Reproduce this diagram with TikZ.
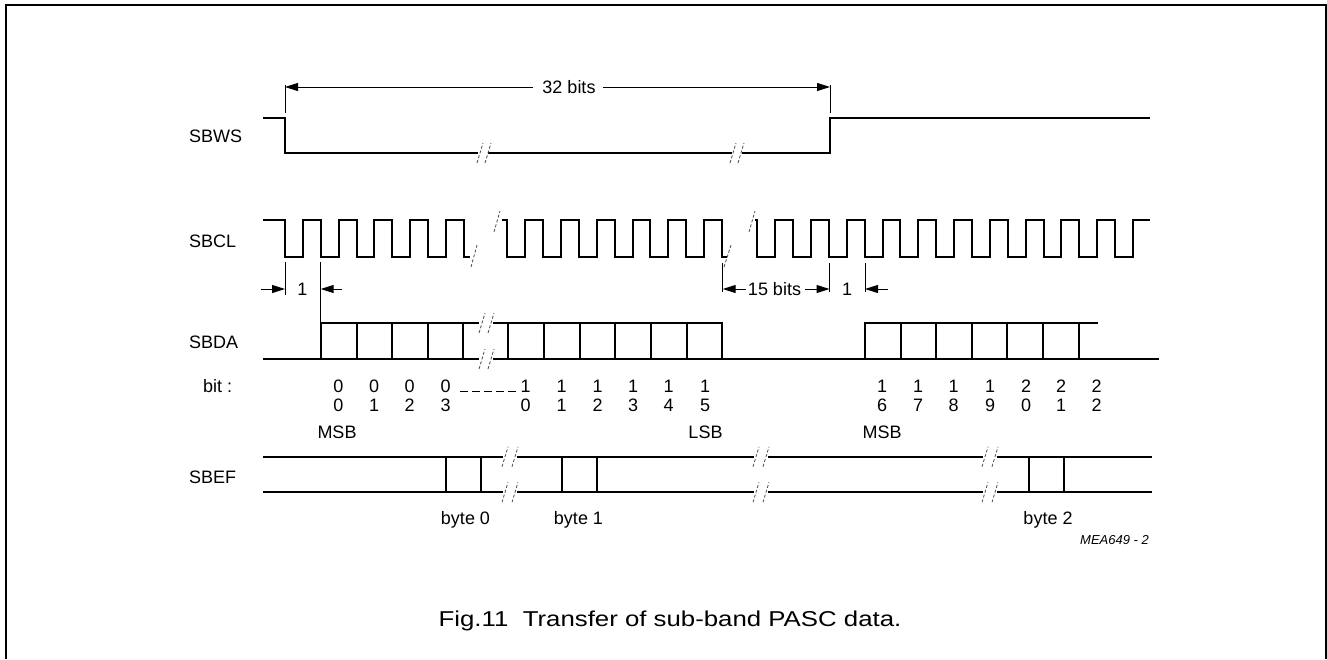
\documentclass[tikz,border=0pt]{standalone}
\usepackage{fontspec}
\setmainfont{Liberation Sans}
\usetikzlibrary{arrows.meta}
\newcommand\BrkMark[2]{\draw[brk] (#1,#2) ++(-3,10) -- ++(6,-20);}
\begin{document}
\begin{tikzpicture}[x=1pt,y=-1pt,
  wave/.style={line width=2pt},
  dimline/.style={line width=1pt},
  dimarrow/.style={line width=1pt,-{Triangle[length=13pt,width=8pt]}},
  brk/.style={line width=0.8pt,black!70,dash pattern=on 3pt off 2pt},
  lbl/.style={font=\fontsize{18}{19}\selectfont,inner sep=0pt},
  figcap/.style={font=\fontsize{21.5}{23}\selectfont,inner sep=0pt},
  tag/.style={font=\fontsize{13}{14}\selectfont\itshape,inner sep=0pt}]
\useasboundingbox (0,0) rectangle (1327,659);
% frame
\draw[line width=2pt] (6,659) -- (6,4.5) -- (1325.5,4.5) -- (1325.5,659);

% signal labels
\node[lbl,anchor=west] (lws) at (189,136) {SBWS};
\node[lbl,anchor=west] (lcl) at (189,241) {SBCL};
\node[lbl,anchor=west] (lda) at (189,342) {SBDA};
\node[lbl,anchor=west] (lbit) at (203,386) {bit :};
\node[lbl,anchor=west] (lef) at (189,477) {SBEF};

% ---------- SBWS ----------
\draw[wave] (263,118) -- (285,118) -- (285,153) -- (478,153);
\draw[wave] (488,153) -- (732,153);
\draw[wave] (742,153) -- (829.5,153) -- (829.5,118) -- (1150,118);
\BrkMark{480}{153}\BrkMark{488}{153}
\BrkMark{733}{153}\BrkMark{741}{153}
% 32 bits dimension
\coordinate (wsA) at (285,87);
\coordinate (wsB) at (830,87);
\draw[dimline] (285,85) -- (285,113);
\draw[dimline] (830,85) -- (830,113);
\node[lbl] (t32) at (569,87) {32 bits};
\draw[dimarrow] (t32.west) ++(-9,0) -- (wsA);
\draw[dimarrow] (t32.east) ++(7,0) -- (wsB);

% ---------- SBCL ----------
\draw[wave] (263,220) -- (285,220)
  \foreach \k in {1,...,5}{ -- ++(0,37) -- ++(17.89,0) -- ++(0,-37) -- ++(17.89,0) }
  -- ++(0,37) -- (470,257);
\draw[wave] (502,220) -- (507.3,220)
  \foreach \k in {1,...,6}{ -- ++(0,37) -- ++(17.89,0) -- ++(0,-37) -- ++(17.89,0) }
  -- ++(0,37) -- (727,257);
\draw[wave] (755,220) -- (757.3,220)
  \foreach \k in {1,...,10}{ -- ++(0,37) -- ++(17.89,0) -- ++(0,-37) -- ++(17.89,0) }
  -- ++(0,37) -- ++(17.89,0) -- ++(0,-37) -- (1150,220);
\draw[brk] (471,267) -- (477,245);
\draw[brk] (494,232) -- (500,211);
\draw[brk] (724,267) -- (731,245);
\draw[brk] (749,232) -- (755,211);
% "1" dimension
\draw[dimline] (285,262) -- (285,295);
\draw[dimline] (320.7,262) -- (320.7,323);
\coordinate (c1a) at (285,289);
\coordinate (c1b) at (320.7,289);
\coordinate (c1al) at (261,289);
\coordinate (c1br) at (342,289);
\node[lbl] (one1) at (302.5,289) {1};
\draw[dimarrow] (c1al) -- (c1a);
\draw[dimarrow] (c1br) -- (c1b);
% 15 bits / 1 dimension
\draw[dimline] (722.7,263) -- (722.7,292);
\draw[dimline] (829.5,263) -- (829.5,292);
\draw[dimline] (865,263) -- (865,292);
\node[lbl] (t15) at (774.5,289) {15 bits};
\node[lbl] (one2) at (847,289) {1};
\coordinate (d15a) at (722.7,289);
\coordinate (d15b) at (829.5,289);
\coordinate (d1b) at (865,289);
\coordinate (d1br) at (888,289);
\draw[dimarrow] (t15.west) ++(-2,0) -- (d15a);
\draw[dimarrow] (t15.east) ++(4,0) -- (d15b);
\draw[dimarrow] (d1br) -- (d1b);

% ---------- SBDA ----------
\draw[wave] (263,359) -- (320.7,359) -- (320.7,323) -- (479,323);
\draw[wave] (320.7,359) -- (479,359);
\draw[wave] (493,323) -- (722.3,323) -- (722.3,359);
\draw[wave] (493,359) -- (865,359) -- (865,323) -- (1098,323);
\draw[wave] (865,359) -- (1159,359);
\foreach \x in {356.7,392.3,428.3,463.3,508,544,579.5,615,650.7,686.7,900.7,936,971.7,1007.3,1043.3,1079.3}
  \draw[wave] (\x,323) -- (\x,359);
\BrkMark{482}{323}\BrkMark{491}{323}
\BrkMark{482}{359}\BrkMark{491}{359}

% bit numbers
\foreach \x/\a/\b [count=\i] in {338.5/0/0,374/0/1,409.5/0/2,445.5/0/3,525.5/1/0,561.5/1/1,597.5/1/2,633/1/3,668.5/1/4,705/1/5,882/1/6,918/1/7,953.5/1/8,990/1/9,1026/2/0,1061/2/1,1096.5/2/2}
  \node[lbl,align=center] (b\i) at (\x,395.5) {\a\\\b};
\draw[line width=1pt,dash pattern=on 8pt off 4pt] (460,391) -- (518,391);
\node[lbl] (msb1) at (337,432) {MSB};
\node[lbl] (lsb1) at (705.5,432) {LSB};
\node[lbl] (msb2) at (882,432) {MSB};

% ---------- SBEF ----------
\foreach \y in {456.7,492.3}{
  \draw[wave] (263,\y) -- (503,\y);
  \draw[wave] (517,\y) -- (754,\y);
  \draw[wave] (768,\y) -- (983,\y);
  \draw[wave] (997,\y) -- (1151.7,\y);
  \BrkMark{505}{\y}\BrkMark{515}{\y}
  \BrkMark{756}{\y}\BrkMark{766}{\y}
  \BrkMark{985}{\y}\BrkMark{995}{\y}
}
\foreach \x in {445.7,481,562.3,597.3,1029.3,1064}
  \draw[wave] (\x,456.7) -- (\x,492.3);
\node[lbl] (by0) at (465.5,520) {byte 0};
\node[lbl] (by1) at (578.5,520) {byte 1};
\node[lbl] (by2) at (1048,520) {byte 2};
\node[tag,anchor=east] (mea) at (1149,540) {MEA649 - 2};

% caption
\node[figcap,anchor=base] (caption) at (670,626.7) {\scalebox{1.2}[1]{Fig.11\ \ Transfer of sub-band PASC data.}};
\end{tikzpicture}
\end{document}
